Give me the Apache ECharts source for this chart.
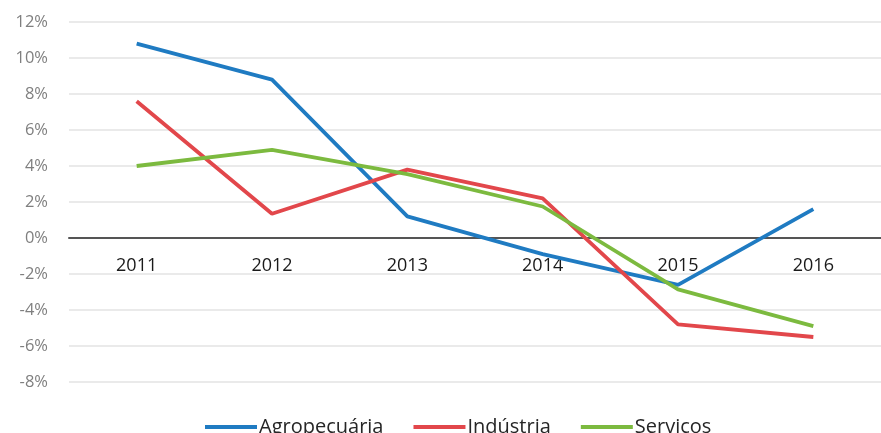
<!DOCTYPE html>
<html>
<head>
<meta charset="utf-8">
<script src="https://cdn.jsdelivr.net/npm/echarts@6/dist/echarts.min.js"></script>
<style>
  html, body { margin: 0; padding: 0; background: #fff; }
  #chart { width: 881px; height: 433px; }
</style>
</head>
<body>
<div id="chart"></div>
<script>
// anos e variação (%) por setor
let years = ['2011', '2012', '2013', '2014', '2015', '2016'];
let agro = [10.8, 8.8, 1.2, -0.9, -2.6, 1.6];
let industria = [7.6, 1.35, 3.8, 2.2, -4.8, -5.5];
let servicos = [4.0, 4.9, 3.55, 1.75, -2.85, -4.9];

let chart = echarts.init(document.getElementById('chart'));

let fontFam = '"Open Sans", "Liberation Sans", sans-serif';

let mkLine = function (name, data, color) {
    return {
        name: name,
        type: 'line',
        data: data,
        symbol: 'none',
        lineStyle: {width: 3.8, color: color},
        itemStyle: {color: color}
    };
};

let option = {
    animation: false,
    grid: {left: 69, right: -3, top: 22, bottom: 51},
    legend: {
        bottom: -9,
        left: 200,
        itemWidth: 52,
        itemHeight: 4,
        itemGap: 30,
        icon: 'rect',
        textStyle: {fontFamily: fontFam, fontSize: 20, color: '#262626', padding: [0, 0, 0, -3]},
        data: ['Agropecuária', 'Indústria', 'Serviços']
    },
    xAxis: {
        type: 'category',
        data: years,
        boundaryGap: true,
        position: 'bottom',
        // eixo desenhado na linha do zero (0% fica 144px acima do fundo)
        offset: -144,
        axisLine: {onZero: false, lineStyle: {color: '#555', width: 2}},
        axisTick: {show: false},
        axisLabel: {margin: 19, fontSize: 18, color: '#1a1a1a', fontFamily: fontFam}
    },
    yAxis: {
        type: 'value',
        min: -8,
        max: 12,
        interval: 2,
        axisLine: {show: false},
        axisTick: {show: false},
        splitLine: {lineStyle: {color: '#e3e3e3', width: 1.5}},
        axisLabel: {
            margin: 21,
            fontSize: 16.5,
            color: '#7f7f7f',
            fontFamily: fontFam,
            formatter: function (v) { return v + '%'; }
        }
    },
    series: [
        mkLine('Agropecuária', agro, '#1f7bc2'),
        mkLine('Indústria', industria, '#e2474b'),
        mkLine('Serviços', servicos, '#7cba3f')
    ]
};

chart.setOption(option);
</script>
</body>
</html>
